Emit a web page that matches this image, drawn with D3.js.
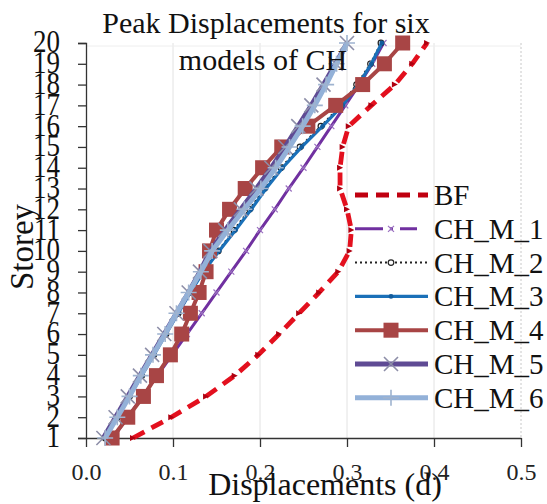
<!DOCTYPE html>
<html><head><meta charset="utf-8">
<script src="https://cdn.jsdelivr.net/npm/d3@7"></script>
<style>body{margin:0;background:#fff}svg{display:block}</style>
</head><body>
<svg id="c" width="547" height="504"></svg>
<script>
const storeys = [1,2,3,4,5,6,7,8,9,10,11,12,13,14,15,16,17,18,19,20];
const BF     = [.054,.098,.138,.171,.198,.222,.245,.268,.290,.303,.305,.300,.292,.292,.295,.302,.328,.355,.375,.392];
const CH_M_1 = [.031,.048,.065,.082,.099,.116,.133,.150,.167,.184,.200,.217,.233,.250,.266,.282,.298,.314,.329,.342];
const CH_M_2 = [.022,.036,.050,.064,.078,.092,.106,.120,.134,.152,.170,.188,.205,.224,.246,.270,.293,.311,.327,.339];
const CH_M_3 = [.022,.036,.050,.064,.078,.092,.106,.120,.135,.153,.172,.190,.207,.226,.248,.272,.295,.313,.328,.340];
const CH_M_4 = [.030,.048,.066,.081,.097,.110,.120,.130,.138,.142,.150,.165,.183,.203,.225,.255,.287,.318,.343,.364];
const CH_M_5 = [.020,.034,.048,.062,.076,.090,.104,.118,.131,.143,.160,.178,.196,.213,.229,.244,.259,.273,.287,.300];
const CH_M_6 = [.022,.036,.050,.063,.077,.091,.104,.118,.132,.145,.163,.182,.201,.218,.234,.249,.263,.276,.288,.300];
const seriesNames = ["BF","CH_M_1","CH_M_2","CH_M_3","CH_M_4","CH_M_5","CH_M_6"];
const xTicks = [0,0.1,0.2,0.3,0.4,0.5];
const titleLines = ["Peak Displacements for six","models of CH"];
const xTitle = "Displacements (d)";
const yTitle = "Storey";

const FONT = '"Liberation Serif"';
const values = [BF,CH_M_1,CH_M_2,CH_M_3,CH_M_4,CH_M_5,CH_M_6];
const styles = [
  {color:"#e3101e", width:4.8, dash:"13,8", marker:"tri", mcolor:"#b00010"},
  {color:"#7030a0", width:3, dash:null, marker:"xs", mcolor:"#9a70c0"},
  {color:"#222", width:2, dash:"2,3", marker:"o", mcolor:"#222"},
  {color:"#1a70b8", width:3.2, dash:null, marker:"dot", mcolor:"#1a70b8"},
  {color:"#a84545", width:4, dash:null, marker:"sq", mcolor:"#a84545"},
  {color:"#5f4b94", width:5, dash:null, marker:"x", mcolor:"#8d8ea8"},
  {color:"#93b1d8", width:5, dash:null, marker:"plus", mcolor:"#9fb3cf"}
];

const svg = d3.select("#c");
const x = d3.scaleLinear().domain([0,0.5]).range([86,521]);
const y = d3.scaleLinear().domain([1,20]).range([438,43]);

// gridlines
svg.append("g").selectAll("line").data(xTicks.filter(d=>d>0)).join("line")
  .attr("x1",d=>x(d)).attr("x2",d=>x(d)).attr("y1",y(20)).attr("y2",y(1))
  .attr("stroke",d=>d===0.5?"#c8c8c8":"#e2e2e2").attr("stroke-width",1)
  .attr("stroke-dasharray",d=>d===0.5?"2,2":null);
svg.append("line").attr("x1",x(0)).attr("x2",x(0.5)).attr("y1",y(20)+3).attr("y2",y(20)+3)
  .attr("stroke","#eeeeee").attr("stroke-width",1);

// axes
const yAxis = d3.axisLeft(y).tickValues(storeys).tickFormat(d3.format("d")).tickSize(8).tickPadding(18);
const gy = svg.append("g").attr("transform",`translate(${x(0)},0)`).call(yAxis);
gy.attr("font-family",null).attr("font-size",null);
gy.select(".domain").attr("stroke","#333").attr("stroke-width",1.3);
gy.selectAll(".tick line").attr("stroke","#333").attr("stroke-width",1.3);
gy.selectAll(".tick text").style("font-size","27px").style("font-family",FONT).attr("fill","#111")
  .attr("dy","0.28em").attr("transform","scale(1,1.18)");

const xAxis = d3.axisBottom(x).tickValues(xTicks).tickFormat(d3.format(".1f")).tickSize(9).tickSizeOuter(0);
const gx = svg.append("g").attr("transform",`translate(0,${y(1)})`).call(xAxis);
gx.attr("font-family",null).attr("font-size",null);
gx.select(".domain").attr("stroke","#333").attr("stroke-width",1.3);
gx.selectAll(".tick line").attr("stroke","#333").attr("stroke-width",1.3);
gx.selectAll(".tick text").style("font-size","24px").style("font-family",FONT).attr("fill","#222")
  .attr("y",42).attr("dy",0);

// marker drawer
function drawMarker(g, type, cx, cy, st){
  if(type==="sq"){
    g.append("rect").attr("x",cx-7.5).attr("y",cy-7.5).attr("width",15).attr("height",15).attr("fill",st.mcolor);
  } else if(type==="x"){
    g.append("path").attr("d",`M${cx-7},${cy-7}L${cx+7},${cy+7}M${cx-7},${cy+7}L${cx+7},${cy-7}`)
      .attr("stroke",st.mcolor).attr("stroke-width",1.6).attr("fill","none");
  } else if(type==="xs"){
    g.append("path").attr("d",`M${cx-3},${cy-3}L${cx+3},${cy+3}M${cx-3},${cy+3}L${cx+3},${cy-3}`)
      .attr("stroke",st.mcolor).attr("stroke-width",1.2).attr("fill","none");
  } else if(type==="plus"){
    g.append("path").attr("d",`M${cx-8},${cy}L${cx+8},${cy}M${cx},${cy-8}L${cx},${cy+8}`)
      .attr("stroke",st.mcolor).attr("stroke-width",1.6).attr("fill","none");
  } else if(type==="o"){
    g.append("circle").attr("cx",cx).attr("cy",cy).attr("r",2.8).attr("fill","#fff").attr("stroke",st.mcolor).attr("stroke-width",1.2);
  } else if(type==="dot"){
    g.append("circle").attr("cx",cx).attr("cy",cy).attr("r",2.4).attr("fill","#125c9c");
  } else if(type==="tri"){
    g.append("path").attr("d",`M${cx-3},${cy-3}L${cx+3},${cy}L${cx-3},${cy+3}Z`).attr("fill",st.mcolor);
  }
}

const line = d3.line().x(d=>x(d.v)).y(d=>y(d.s));
const plot = svg.append("g");
values.forEach((vals,i)=>{
  const st = styles[i];
  const pts = storeys.map((s,k)=>({s:s,v:vals[k]}));
  const g = plot.append("g");
  g.append("path").datum(pts).attr("d",line).attr("fill","none").attr("stroke",st.color)
    .attr("stroke-width",st.width).attr("stroke-dasharray",st.dash).attr("stroke-linejoin","round");
  pts.forEach(p=>drawMarker(g, st.marker, x(p.v), y(p.s), st));
});

// legend
const leg = svg.append("g");
const rowY = d => 195 + d*33.8;
seriesNames.forEach((name,i)=>{
  const st = styles[i];
  const ry = rowY(i);
  const g = leg.append("g");
  let dash = st.dash;
  if(i===0) dash = "13,8";
  if(i===1) dash = "28,7,3,7,17";
  g.append("line").attr("x1",355).attr("x2",428).attr("y1",ry).attr("y2",ry)
    .attr("stroke",i===0?"#c00010":st.color).attr("stroke-width",st.width).attr("stroke-dasharray",dash);
  if(i!==0) drawMarker(g, st.marker, 391, ry, st);
  g.append("text").attr("x",434).attr("y",ry+10).style("font-size","29px").style("font-family",FONT).attr("fill","#111").text(name);
});

// titles
const tt = svg.append("text").attr("text-anchor","middle").style("font-size","30px").style("font-family",FONT).attr("fill","#111");
tt.append("tspan").attr("x",266).attr("y",33).text(titleLines[0]);
tt.append("tspan").attr("x",263).attr("y",70).text(titleLines[1]);
svg.append("text").attr("text-anchor","middle").attr("x",325).attr("y",495).style("font-size","32px").style("font-family",FONT).attr("fill","#111").text(xTitle);
svg.append("text").attr("text-anchor","middle").attr("transform","translate(33,247) rotate(-90)").style("font-size","33px").style("font-family",FONT).attr("fill","#111").text(yTitle);
</script>
</body></html>
